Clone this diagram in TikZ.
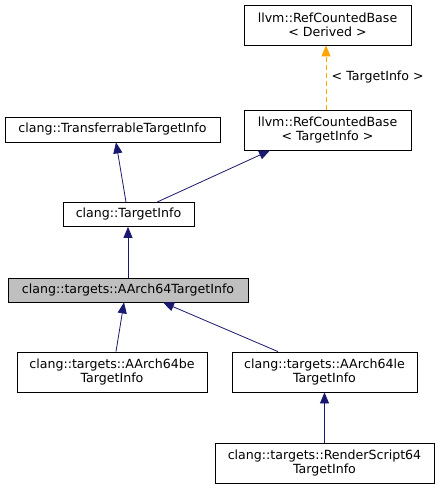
\documentclass[tikz,border=0pt]{standalone}
\usepackage{fontspec}
\setmainfont{DejaVu Sans}
\usetikzlibrary{arrows.meta}
\definecolor{edgeblue}{RGB}{25,25,112}
\definecolor{tmplorange}{RGB}{255,165,0}
\definecolor{curgray}{RGB}{191,191,191}
\begin{document}
\begin{tikzpicture}[x=1pt,y=-1pt,
    cls/.style={draw=black, line width=0.8pt, fill=white, inner sep=0pt, align=center,
        font=\fontsize{12.6}{14.5}\selectfont},
    inh/.style={edgeblue, line width=0.8pt, -{Triangle[width=9pt,length=11pt]}},
    tmpl/.style={tmplorange, line width=0.8pt, dash pattern=on 5pt off 3pt,
        -{Triangle[width=9pt,length=11pt]}}]
    \useasboundingbox[fill=white] (0,0) rectangle (439,489);
    \node[cls, minimum width=167pt, minimum height=40pt] (rcbd) at (327.5,25) {llvm::RefCountedBase\\< Derived >};
    \node[cls, minimum width=167pt, minimum height=40pt] (rcbt) at (327.5,130) {llvm::RefCountedBase\\< TargetInfo >};
    \node[cls, minimum width=215pt, minimum height=25pt] (tti) at (112.5,129.5) {clang::TransferrableTargetInfo};
    \node[cls, minimum width=131pt, minimum height=24pt] (ti) at (128.5,214.5) {clang::TargetInfo};
    \node[cls, fill=curgray, minimum width=240pt, minimum height=24pt] (a64) at (128,290) {clang::targets::AArch64TargetInfo};
    \node[cls, minimum width=190pt, minimum height=40pt] (be) at (112,372) {clang::targets::AArch64be\\TargetInfo};
    \node[cls, minimum width=185pt, minimum height=40pt] (le) at (324.5,372) {clang::targets::AArch64le\\TargetInfo};
    \node[cls, minimum width=219pt, minimum height=40pt] (rs) at (324.5,463) {clang::targets::RenderScript64\\TargetInfo};
    % inheritance
    \draw[tmpl] ([xshift=-1.5pt]rcbt.north) -- ([xshift=-1.5pt]rcbd.south)
        node[midway, right=2pt, black, font=\fontsize{12.6}{14.5}\selectfont] {< TargetInfo >};
    \draw[inh] ([xshift=-2.5pt]ti.north) -- ([xshift=3.5pt]tti.south);
    \draw[inh] ([xshift=28.5pt]ti.north) -- ([xshift=-57.5pt]rcbt.south);
    \draw[inh] (a64.north) -- (a64.north |- ti.south);
    \draw[inh] ([xshift=4pt]be.north) -- ([xshift=-4pt]a64.south);
    \draw[inh] ([xshift=-46.5pt]le.north) -- ([xshift=35pt]a64.south);
    \draw[inh] (rs.north) -- (le.south);
\end{tikzpicture}
\end{document}
